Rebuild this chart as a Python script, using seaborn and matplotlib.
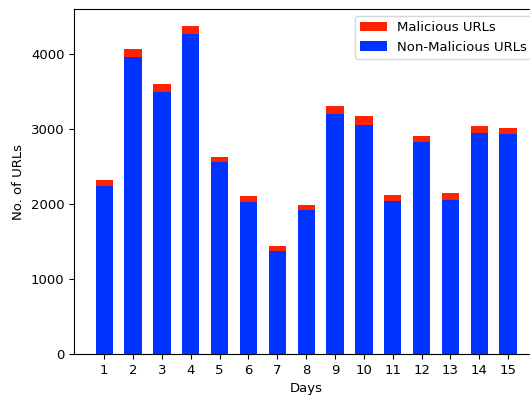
import matplotlib
matplotlib.use('Agg')
import matplotlib.pyplot as plt
import pandas as pd
import seaborn as sns

# -- данные --
days = [str(d) for d in range(1, 16)]
non_malicious = [2240, 3967, 3493, 4272, 2559, 2032, 1381, 1916,
                 3200, 3054, 2045, 2829, 2058, 2948, 2939]
malicious = [84, 97, 106, 97, 70, 76, 66, 72,
             107, 124, 76, 79, 93, 89, 71]

df = pd.DataFrame({
    'Days': days,
    'Non-Malicious': non_malicious,
    'Malicious': malicious,
})
df['Total'] = df['Non-Malicious'] + df['Malicious']

plt.rcParams['font.size'] = 9.5

fig, ax = plt.subplots(figsize=(5.3, 3.97), dpi=100)

# красные столбцы полной высоты, синие поверх
sns.barplot(data=df, x='Days', y='Total', color='#FF2200', saturation=1,
            width=0.6, label='Malicious URLs', ax=ax, order=days)
sns.barplot(data=df, x='Days', y='Non-Malicious', color='#0033FF',
            saturation=1, width=0.6, label='Non-Malicious URLs', ax=ax,
            order=days)

ax.set_xlim(-1.04, 15.07)
ax.set_ylim(0, 4600)
ax.set_xlabel('Days')
ax.set_ylabel('No. of URLs')
ax.legend(loc='upper right')

# правый край осей чуть выходит за пределы рисунка, как в оригинале
fig.subplots_adjust(left=0.14, right=1.017, top=0.977, bottom=0.108)
fig.savefig('out.png', dpi=100)
plt.close()
